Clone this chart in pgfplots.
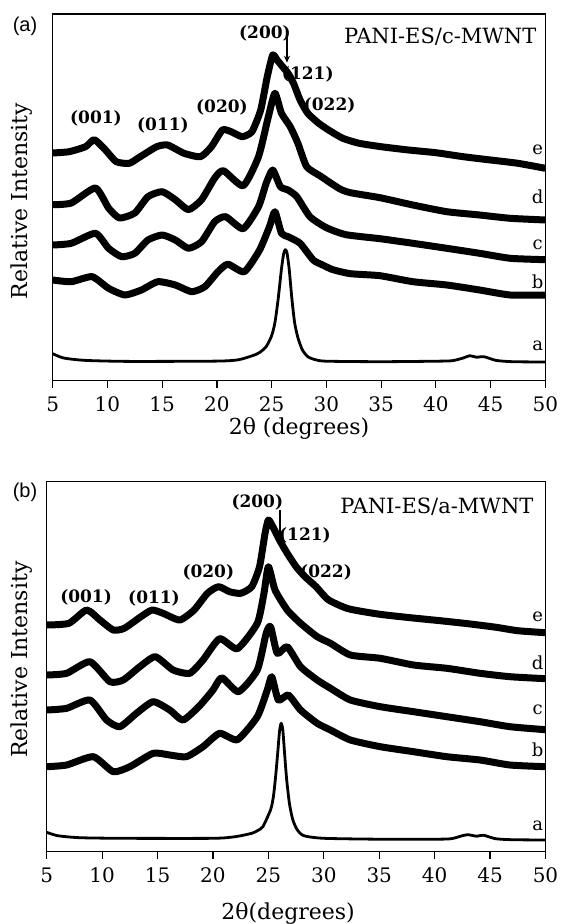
\documentclass[border=0pt]{standalone}
\usepackage{fontspec}
\setmainfont{DejaVu Serif}
\newfontfamily\panelfont{Liberation Sans}
\usepackage{pgfplots}
\pgfplotsset{compat=1.18}
\usetikzlibrary{arrows.meta}
\pgfplotsset{
  xrd/.style={
    scale only axis,
    xmin=5, xmax=50, ymin=0,
    xtick={5,10,...,50},
    ytick=\empty,
    tick align=outside,
    xtick pos=left,
    major tick length=3.5pt,
    axis line style={line width=0.6pt},
    every tick/.style={line width=0.6pt, black},
    /pgf/number format/assume math mode=true,
    tick label style={font=\fontsize{10}{11}\selectfont},
    xticklabel style={yshift=-1pt},
    label style={font=\fontsize{11}{12}\selectfont},
    clip mode=individual,
  },
}
\tikzset{
  noisy/.style={black, line width=3.5pt, line join=round, smooth, tension=0.35},
  sharp/.style={black, line width=1.4pt, line join=round, smooth, tension=0.4},
  pk/.style={font=\bfseries\fontsize{8.5}{9}\selectfont},
  cl/.style={font=\fontsize{9}{10}\selectfont},
}
\begin{document}
\begin{tikzpicture}[x=1pt,y=1pt]
\path[use as bounding box] (0,0) rectangle (281,-462);
\node[font=\panelfont\fontsize{10}{11}\selectfont] at (12.5,-13) {(a)};
\node[font=\panelfont\fontsize{10}{11}\selectfont] at (12.5,-246) {(b)};

% ---------------- panel (a) ----------------
\begin{axis}[xrd,
  at={(26.35pt,-190.35pt)}, anchor=south west,
  width=246.3pt, height=183.35pt, ymax=366.7,
  xlabel={2θ (degrees)}, ylabel={Relative Intensity},
  xlabel style={at={(axis description cs:0.5,-0.129)}, anchor=center},
  ylabel style={at={(axis description cs:-0.0623,0.49)}, anchor=center},
]
% a
\addplot[sharp] coordinates {(5,27) (6,22.7) (8,20.3) (12,19.3) (20,19.6) (22,21) (23.5,26) (24,29) (24.5,34) (25,45) (25.3,58) (25.6,82) (25.9,112) (26.1,127) (26.25,131) (26.4,128) (26.6,112) (26.85,82) (27.1,58) (27.4,43) (27.8,31) (28.3,24) (29,21) (30,19.5) (35,19) (40,19.5) (41.5,20) (42.5,22.7) (43.1,25) (43.7,23.5) (44.4,24) (45.5,20.3) (47,19) (50,18.7)};
% b
\addplot[noisy] coordinates {(5,100.7) (6.7,99) (8.6,104) (10.1,92.4) (11.6,85.7) (13.1,90.7) (14.6,99) (16.2,95.7) (17.7,89) (18.9,94) (20.1,109) (21,116.5) (22.5,109) (23.9,130.7) (24.8,154) (25.3,169) (25.9,147.4) (26.5,144) (27.6,137.4) (28.8,120.7) (29.6,116) (30.6,111) (32.2,107) (34.9,105) (37.9,99) (41,95.7) (44,90.7) (46.8,85.7) (50,85.7)};
% c
\addplot[noisy] coordinates {(5,135.7) (6.7,137.4) (8.9,147.4) (10.1,132.4) (11.3,124) (12.5,127.4) (13.7,140.7) (15,145.7) (16.2,140.7) (17.4,132.4) (18.6,139) (19.8,159) (20.8,164) (22.4,152) (23.8,174) (24.5,197.4) (25.1,210.7) (25.8,194) (26.5,190.7) (27.3,184) (28.5,164) (30,153) (31.8,146) (34.9,142) (37.9,137.4) (41,132.4) (44,127.4) (46.8,122.4) (50,121)};
% d
\addplot[noisy] coordinates {(5,176) (6.7,177.7) (8.9,192.7) (10.1,172.7) (11.1,162.7) (12.5,167.7) (13.7,184) (15,189) (16.2,181) (17.4,171) (18.6,181) (19.8,202.7) (20.6,210) (22.4,195) (23.8,224) (24.7,264) (25.3,287.4) (25.9,267.4) (26.7,254) (27.4,237.4) (28.2,214) (29.4,205) (31.2,192) (32.2,188) (34.9,183) (37.9,175.7) (41,169) (44,165.7) (46.8,162.4) (50,160.7)};
% e
\addplot[noisy] coordinates {(5,227.7) (6.5,229) (8,234) (8.8,241) (9.8,231) (10.8,219) (12,217.4) (13,224) (14.5,234) (15.5,235.7) (17,227.4) (18.5,224) (19.5,234) (20.5,250.7) (21.3,249) (22.3,244) (23.2,249) (24,270.7) (24.6,304) (25.1,325.7) (25.5,320.7) (26,314) (26.5,307.4) (27,297.4) (27.6,280.7) (28.3,267.4) (29.3,257.4) (30.2,250.7) (31.5,242.4) (33,237.4) (35,234) (37.5,230.7) (40,228) (42.5,224) (45,220.7) (47.5,217.4) (50,212.4)};
\node[cl] at (axis cs:49.3,230.7) {e};
\node[cl] at (axis cs:49.3,183.7) {d};
\node[cl] at (axis cs:49.3,135.7) {c};
\node[cl] at (axis cs:49.3,98.7) {b};
\node[cl] at (axis cs:49.3,34.7) {a};
\node[pk] at (axis cs:8.95,262.7) {(001)};
\node[pk] at (axis cs:15.07,255.7) {(011)};
\node[pk] at (axis cs:20.46,273.5) {(020)};
\node[pk] at (axis cs:24.39,347.7) {(200)};
\node[pk] at (axis cs:28.3,306) {(121)};
\node[pk] at (axis cs:30.3,275) {(022)};
\draw[line width=0.6pt,-{Stealth[length=3.5pt,width=3pt]}] (axis cs:26.4,347) -- (axis cs:26.4,318);
\node[font=\fontsize{10.5}{11}\selectfont] at (axis cs:40.4,343.7) {PANI-ES/c-MWNT};
\end{axis}

% ---------------- panel (b) ----------------
\begin{axis}[xrd,
  at={(23.35pt,-425.85pt)}, anchor=south west,
  width=249.4pt, height=185pt, ymax=370,
  xlabel={2θ(degrees)}, ylabel={Relative Intensity},
  xlabel style={at={(axis description cs:0.484,-0.166)}, anchor=center},
  ylabel style={at={(axis description cs:-0.0495,0.519)}, anchor=center},
]
% a
\addplot[sharp] coordinates {(5,19.4) (6,16) (8,14) (12,13.4) (20,13.4) (22,15) (23.5,18.4) (24,21) (24.5,25) (25.2,42) (25.45,55) (25.65,75) (25.85,100) (26,120) (26.15,128.4) (26.3,122) (26.45,100) (26.65,72) (26.9,48) (27.2,32) (27.6,22) (28.2,16) (30,13.4) (35,12.5) (40,12.5) (41.5,13) (42.5,16) (43,17) (43.8,15.5) (44.4,16.5) (45.5,13) (47,12) (50,11.7)};
% b
\addplot[noisy] coordinates {(5,85) (6.8,86.7) (9.2,95) (11,80) (12.5,85) (14.6,98.4) (16.1,96.7) (17.6,95) (19.1,105) (20.6,118.4) (22.2,112) (24,135) (24.9,161.7) (25.3,175) (25.9,151.7) (26.8,156.7) (27.9,141.7) (29.4,128.4) (30.6,121.7) (32.4,111.7) (35.1,105) (38.1,100) (41.1,95) (44.1,91.7) (46.8,86.7) (50,85)};
% c
\addplot[noisy] coordinates {(5,141.7) (6.8,143.4) (8.9,151.7) (10.4,131.7) (11.6,125) (13.1,138.4) (14.6,150) (16.1,141.7) (17.3,131.7) (18.8,146) (20,161.7) (20.8,174) (22.3,160) (24,181.7) (24.8,218.4) (25.2,225) (25.8,198.4) (26.7,205) (27.9,185) (29.4,171.7) (30.6,163.4) (32.4,151.7) (35.1,145) (38.1,140) (41.1,135) (44.1,130) (46.8,125) (50,122)};
% d
\addplot[noisy] coordinates {(5,176.7) (6.8,178.4) (8.9,190) (10.7,170) (11.9,171.7) (13.4,185) (14.8,195) (16.4,181.7) (17.9,178.4) (19.1,191.7) (20.6,213) (22.2,203) (24,228.4) (24.6,258.4) (25,285) (25.6,261.7) (26.7,241.7) (27.9,228.4) (29.4,215) (30.6,208.4) (32.4,196.7) (35.1,193.4) (38.1,186.7) (41.1,183.4) (44.1,178.4) (46.8,175) (50,173)};
% e
\addplot[noisy] coordinates {(5,226.7) (7,228.4) (8.6,241.7) (9.8,231.7) (11,221.7) (12,223.4) (13.5,235) (14.5,241.7) (15.5,238.4) (17,231.7) (18.3,241.7) (19.5,258.4) (20.5,265) (21.5,260) (22.5,258.4) (23.5,265) (24.2,285) (24.7,318.4) (25,331.7) (25.4,325) (26,311.7) (26.7,298.4) (27.5,285) (28.3,275) (29.3,265) (30.4,252) (32.2,243) (35,237.5) (37.8,234) (40.5,231) (43,228) (45.5,224.5) (47.5,221) (50,219)};
\node[cl] at (axis cs:49.3,234.7) {e};
\node[cl] at (axis cs:49.3,188.7) {d};
\node[cl] at (axis cs:49.3,141.7) {c};
\node[cl] at (axis cs:49.3,101.7) {b};
\node[cl] at (axis cs:49.3,25.7) {a};
\node[pk] at (axis cs:8.55,254.7) {(001)};
\node[pk] at (axis cs:14.68,253.7) {(011)};
\node[pk] at (axis cs:19.58,279.7) {(020)};
\node[pk] at (axis cs:24.0,349.7) {(200)};
\node[pk] at (axis cs:28.3,316.7) {(121)};
\node[pk] at (axis cs:30.2,279.7) {(022)};
\draw[line width=0.6pt,-{Stealth[length=3.5pt,width=3pt]}] (axis cs:26.05,342) -- (axis cs:26.05,314.7);
\node[font=\fontsize{10.5}{11}\selectfont] at (axis cs:40.2,344.7) {PANI-ES/a-MWNT};
\end{axis}
\end{tikzpicture}
\end{document}
